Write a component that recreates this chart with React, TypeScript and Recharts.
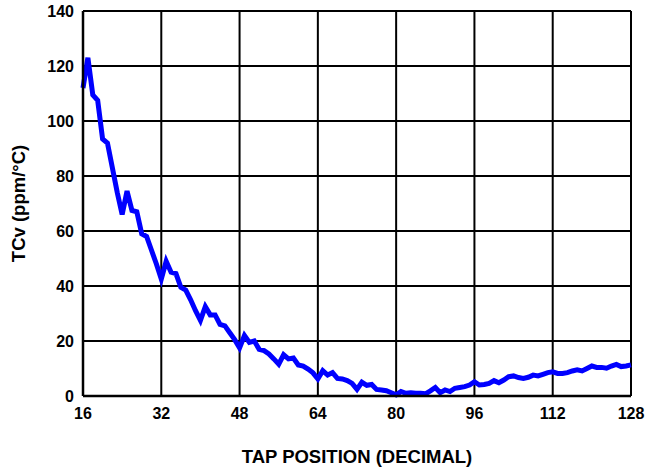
import React from 'react';
import { LineChart, Line, XAxis, YAxis, CartesianGrid, Label } from 'recharts';

// tap position (decimal)
const taps = [
  16, 17, 18, 19, 20, 21, 22, 23, 24, 25, 26, 27, 28, 29, 30, 31,
  32, 33, 34, 35, 36, 37, 38, 39, 40, 41, 42, 43, 44, 45, 46, 47,
  48, 49, 50, 51, 52, 53, 54, 55, 56, 57, 58, 59, 60, 61, 62, 63,
  64, 65, 66, 67, 68, 69, 70, 71, 72, 73, 74, 75, 76, 77, 78, 79,
  80, 81, 82, 83, 84, 85, 86, 87, 88, 89, 90, 91, 92, 93, 94, 95,
  96, 97, 98, 99, 100, 101, 102, 103, 104, 105, 106, 107, 108, 109, 110, 111,
  112, 113, 114, 115, 116, 117, 118, 119, 120, 121, 122, 123, 124, 125, 126, 127,
  128,
];

// TCv in ppm/°C
const tcv = [
  112, 123, 109.5, 107.5, 93.5, 92, 83, 74, 66, 74.5, 67.5, 67, 59, 58, 53, 48,
  42.5, 49, 45, 44.5, 39.5, 38.5, 35, 31, 27.5, 32.5, 29.5, 29.5, 26, 25.5, 23, 20.5,
  17.5, 22, 19.5, 20, 17, 16.5, 15.3, 13.5, 11.6, 15, 13.5, 13.8, 11.3, 10.9, 9.8, 8.4,
  6.2, 9.2, 7.6, 8.5, 6.4, 6.2, 5.6, 4.6, 2.4, 5, 3.9, 4.2, 2.4, 2.2, 1.9, 1.2,
  0.4, 1.6, 1, 1.2, 1, 1, 0.8, 1.9, 3.1, 1.2, 2.2, 1.6, 2.8, 3.1, 3.4, 4,
  5.2, 4, 4.2, 4.6, 5.6, 4.8, 5.8, 7, 7.3, 6.7, 6.4, 6.8, 7.6, 7.3, 7.9, 8.5,
  8.8, 8.2, 8.2, 8.5, 9.1, 9.5, 9.1, 10, 10.9, 10.4, 10.4, 10.1, 10.9, 11.5, 10.7, 10.9,
  11.3,
];

const xTicks = [16, 32, 48, 64, 80, 96, 112, 128];
const yTicks = [0, 20, 40, 60, 80, 100, 120, 140];

const data = taps.map((t, i) => ({ tap: t, tcv: tcv[i] }));

const font = '"Liberation Sans", Arial, Helvetica, sans-serif';
const tickStyle = { fill: '#000', fontSize: 16, fontWeight: 700, fontFamily: font };
const titleStyle = { fill: '#000', fontSize: 18.5, fontWeight: 700, fontFamily: font, textAnchor: 'middle' as const };

export default function App() {
  return (
    <div style={{ position: 'absolute', left: 0, top: 0, width: 648, height: 470, background: '#fff' }}>
      <LineChart width={648} height={470} data={data} margin={{ top: 11, right: 17, bottom: 0, left: 0 }}>
        <CartesianGrid stroke="#000" strokeWidth={2} />
        <XAxis
          dataKey="tap"
          type="number"
          domain={[16, 128]}
          ticks={xTicks}
          height={74}
          tickLine={false}
          tickSize={6}
          tickMargin={6}
          axisLine={{ stroke: '#000', strokeWidth: 2.5 }}
          tick={tickStyle}
        >
          <Label value="TAP POSITION (DECIMAL)" position="insideBottom" offset={7} style={titleStyle} />
        </XAxis>
        <YAxis
          type="number"
          domain={[0, 140]}
          ticks={yTicks}
          width={83}
          tickLine={false}
          tickSize={6}
          tickMargin={3}
          axisLine={{ stroke: '#000', strokeWidth: 2.5 }}
          tick={tickStyle}
        >
          <Label value="TCv (ppm/°C)" angle={-90} position="insideLeft" offset={18} style={titleStyle} />
        </YAxis>
        <Line
          dataKey="tcv"
          type="linear"
          stroke="#0000ff"
          strokeWidth={5}
          dot={false}
          isAnimationActive={false}
        />
      </LineChart>
    </div>
  );
}
